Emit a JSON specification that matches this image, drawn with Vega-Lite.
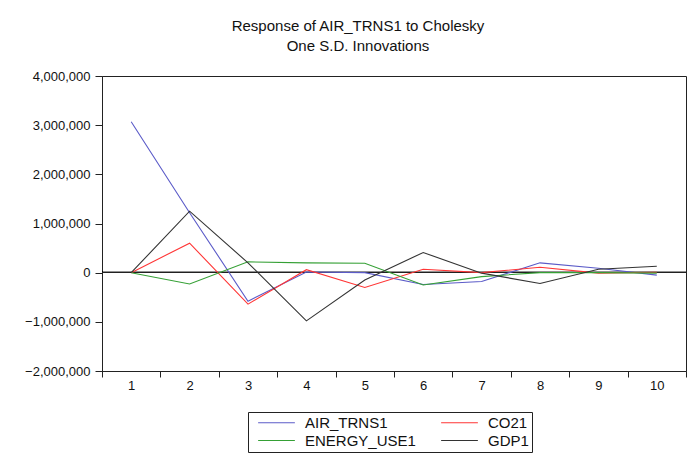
{
  "$schema": "https://vega.github.io/schema/vega-lite/v6.json",
  "autosize": "none",
  "width": 584,
  "height": 295,
  "padding": {"left": 102, "top": 76, "right": 2, "bottom": 84},
  "background": "white",
  "title": {
    "text": ["Response of AIR_TRNS1 to Cholesky", "One S.D. Innovations"],
    "font": "Liberation Sans",
    "fontSize": 15,
    "fontWeight": "normal",
    "color": "#111",
    "anchor": "middle",
    "dx": -36,
    "offset": 16,
    "lineHeight": 20
  },
  "config": {
    "view": {"stroke": "#222", "strokeWidth": 1},
    "font": "Liberation Sans"
  },
  "data": {
    "values": [
      {"step": 1, "series": "AIR_TRNS1", "value": 3070000},
      {"step": 2, "series": "AIR_TRNS1", "value": 1220000},
      {"step": 3, "series": "AIR_TRNS1", "value": -580000},
      {"step": 4, "series": "AIR_TRNS1", "value": 15000},
      {"step": 5, "series": "AIR_TRNS1", "value": 0},
      {"step": 6, "series": "AIR_TRNS1", "value": -240000},
      {"step": 7, "series": "AIR_TRNS1", "value": -180000},
      {"step": 8, "series": "AIR_TRNS1", "value": 200000},
      {"step": 9, "series": "AIR_TRNS1", "value": 90000},
      {"step": 10, "series": "AIR_TRNS1", "value": -50000},
      {"step": 1, "series": "CO21", "value": 0},
      {"step": 2, "series": "CO21", "value": 600000},
      {"step": 3, "series": "CO21", "value": -640000},
      {"step": 4, "series": "CO21", "value": 60000},
      {"step": 5, "series": "CO21", "value": -300000},
      {"step": 6, "series": "CO21", "value": 70000},
      {"step": 7, "series": "CO21", "value": 0},
      {"step": 8, "series": "CO21", "value": 110000},
      {"step": 9, "series": "CO21", "value": -10000},
      {"step": 10, "series": "CO21", "value": 10000},
      {"step": 1, "series": "ENERGY_USE1", "value": 0},
      {"step": 2, "series": "ENERGY_USE1", "value": -230000},
      {"step": 3, "series": "ENERGY_USE1", "value": 220000},
      {"step": 4, "series": "ENERGY_USE1", "value": 200000},
      {"step": 5, "series": "ENERGY_USE1", "value": 190000},
      {"step": 6, "series": "ENERGY_USE1", "value": -250000},
      {"step": 7, "series": "ENERGY_USE1", "value": -80000},
      {"step": 8, "series": "ENERGY_USE1", "value": 0},
      {"step": 9, "series": "ENERGY_USE1", "value": 0},
      {"step": 10, "series": "ENERGY_USE1", "value": -10000},
      {"step": 1, "series": "GDP1", "value": 0},
      {"step": 2, "series": "GDP1", "value": 1250000},
      {"step": 3, "series": "GDP1", "value": 200000},
      {"step": 4, "series": "GDP1", "value": -980000},
      {"step": 5, "series": "GDP1", "value": -150000},
      {"step": 6, "series": "GDP1", "value": 410000},
      {"step": 7, "series": "GDP1", "value": -10000},
      {"step": 8, "series": "GDP1", "value": -220000},
      {"step": 9, "series": "GDP1", "value": 70000},
      {"step": 10, "series": "GDP1", "value": 130000}
    ]
  },
  "layer": [
    {
      "mark": {"type": "rule", "color": "#222", "strokeWidth": 1, "yOffset": -0.17},
      "encoding": {"y": {"datum": 0, "type": "quantitative"}}
    },
    {
      "mark": {"type": "line", "strokeWidth": 1.1},
      "encoding": {
        "x": {
          "field": "step",
          "type": "ordinal",
          "bandPosition": 0.5,
          "scale": {"type": "band", "paddingInner": 0, "paddingOuter": 0},
          "axis": {
            "title": null,
            "labelAngle": 0,
            "tickBand": "extent",
            "domainColor": "#222",
            "tickColor": "#222",
            "tickSize": 6,
            "labelFont": "Liberation Sans",
            "labelFontSize": 13,
            "labelColor": "#111",
            "labelPadding": 2
          }
        },
        "y": {
          "field": "value",
          "type": "quantitative",
          "scale": {"domain": [-2000000, 4000000], "nice": false},
          "axis": {
            "title": null,
            "values": [-2000000, -1000000, 0, 1000000, 2000000, 3000000, 4000000],
            "format": ",d",
            "grid": false,
            "domainColor": "#222",
            "tickColor": "#222",
            "tickSize": 7,
            "labelFont": "Liberation Sans",
            "labelFontSize": 13,
            "labelColor": "#111",
            "labelPadding": 5
          }
        },
        "color": {
          "field": "series",
          "type": "nominal",
          "scale": {
            "domain": ["AIR_TRNS1", "CO21", "ENERGY_USE1", "GDP1"],
            "range": ["#5b5bc8", "#ff3535", "#35a035", "#333333"]
          },
          "legend": {
            "title": null,
            "orient": "none",
            "legendX": 146,
            "legendY": 336,
            "columns": 2,
            "direction": "horizontal",
            "columnPadding": 18,
            "rowPadding": 2,
            "symbolType": "M-3,0H3",
            "symbolSize": 150,
            "symbolOffset": 18,
            "symbolStrokeWidth": 1.2,
            "labelOffset": 21,
            "labelFont": "Liberation Sans",
            "labelFontSize": 15,
            "labelColor": "#111",
            "strokeColor": "#222",
            "padding": 3
          }
        }
      }
    }
  ]
}
